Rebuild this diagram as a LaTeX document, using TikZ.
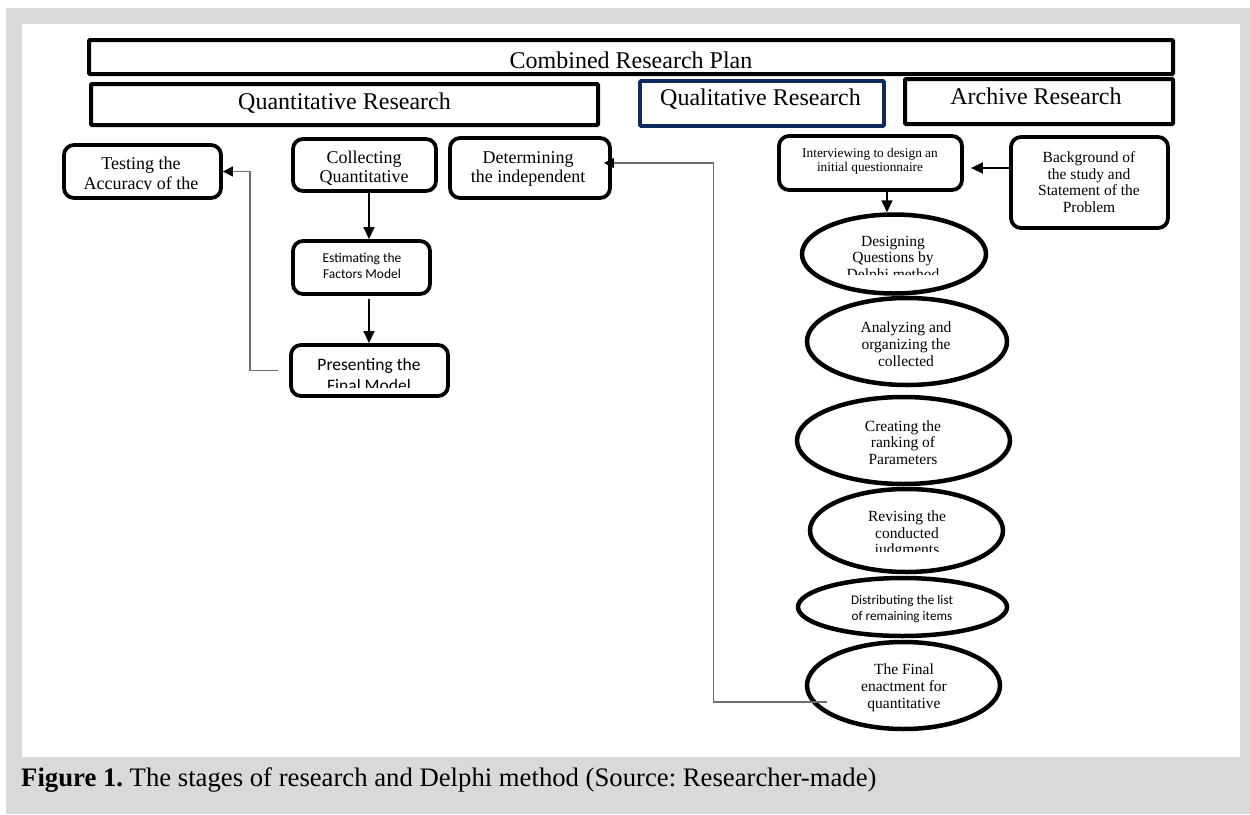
\documentclass[tikz,border=0pt]{standalone}
\usepackage{fontspec}
\setmainfont{Liberation Serif}
\newfontfamily\calib{Carlito}
\usetikzlibrary{arrows.meta,shapes.geometric}
\definecolor{bggray}{HTML}{D9D9D9}
\definecolor{navy}{HTML}{102A5E}
\definecolor{linegray}{HTML}{6E6E6E}
\newcommand\setfs[2]{\fontsize{#1}{#2}\selectfont}
\frenchspacing
\begin{document}
\begin{tikzpicture}[x=1pt,y=-1pt,
  hdr/.style={draw, line width=4pt, rounded corners=1pt, inner sep=0pt},
  box/.style={draw, line width=3.8pt, rounded corners=10pt, inner sep=0pt},
  ell/.style={draw, ellipse, line width=4.5pt, inner sep=0pt},
  txt/.style={align=center, inner sep=0pt},
  arr/.style={line width=1.5pt, -{Triangle[length=12pt,width=11pt]}},
  fb/.style={draw=linegray, line width=1.4pt, -{Triangle[length=10pt,width=10pt,color=black]}}]
\path[use as bounding box] (0,0) rectangle (1250,814);
\fill[white] (0,0) rectangle (1250,814);
\fill[bggray] (6,8) rectangle (1250,814);
\fill[white] (22,24) rectangle (1240,757);

% header boxes
\node[hdr, minimum width=1084pt, minimum height=34pt] (comb) at (631,57) {};
\node[hdr, minimum width=507pt, minimum height=41pt] (quan) at (344.5,104.5) {};
\node[hdr, draw=navy, line width=3.6pt, minimum width=244pt, minimum height=45pt] (qual) at (762,103.5) {};
\node[hdr, minimum width=268pt, minimum height=45pt] (arch) at (1039,101.5) {};
\node[anchor=base, inner sep=0pt, font={\setfs{24}{28}}] (combt) at (631,68) {Combined Research Plan};
\node[anchor=base, inner sep=0pt, font={\setfs{24}{28}}] (quant) at (344.5,109) {Quantitative Research};
\node[anchor=base, inner sep=0pt, font={\setfs{24}{28}}] (qualt) at (760.5,105) {Qualitative Research};
\node[anchor=base, inner sep=0pt, font={\setfs{24}{28}}] (archt) at (1036,104) {Archive Research};

% left boxes
\node[box, minimum width=157pt, minimum height=53pt] (test) at (142.5,171.5) {};
\node[box, minimum width=143pt, minimum height=52pt] (coll) at (364.5,165) {};
\node[box, minimum width=160pt, minimum height=60pt] (det) at (530,168) {};
\node[box, minimum width=137pt, minimum height=53pt] (est) at (361.5,267.5) {};
\node[box, minimum width=157pt, minimum height=51pt] (pres) at (369.5,370.5) {};

\begin{scope}
\clip (64,145) rectangle (221,189);
\node[txt, font={\setfs{18}{20}}] (testt) at (141,175) {Testing the\\Accuracy of the};
\end{scope}
\begin{scope}
\clip (293,139) rectangle (436,184);
\node[txt, font={\setfs{18}{19}}] (collt) at (364,168) {Collecting\\Quantitative};
\end{scope}
\node[txt, font={\setfs{18}{19}}] (dett) at (528,168.5) {Determining\\the independent};
\node[txt, font={\calib\setfs{13.5}{16}}] (estt) at (362,266) {Estimating the\\Factors Model};
\begin{scope}
\clip (291,345) rectangle (448,387);
\node[txt, font={\calib\setfs{17.5}{21}}] (prest) at (369,374.5) {Presenting the\\Final Model};
\end{scope}

% right boxes
\node[box, minimum width=183pt, minimum height=54pt] (intv) at (870.5,163) {};
\node[box, minimum width=157pt, minimum height=91pt] (bkg) at (1089.5,182.5) {};
\node[txt, font={\setfs{13.3}{14}}] (intvt) at (870,161.5) {Interviewing to design an\\initial questionnaire};
\node[txt, font={\setfs{15.5}{16.7}}] (bkgt) at (1089,182) {Background of\\the study and\\Statement of the\\Problem};

% ellipses
\node[ell, minimum width=184pt, minimum height=79pt] (desg) at (894,254) {};
\node[ell, minimum width=200pt, minimum height=87pt] (anal) at (907,341.5) {};
\node[ell, minimum width=213pt, minimum height=87pt] (crea) at (903.5,440.5) {};
\node[ell, minimum width=193pt, minimum height=83pt] (revs) at (906.5,530.5) {};
\node[ell, minimum width=209pt, minimum height=58pt] (dist) at (902.5,607) {};
\node[ell, minimum width=193pt, minimum height=87pt] (finl) at (903.5,685.5) {};

\begin{scope}
\clip (820,225) rectangle (970,274);
\node[txt, font={\setfs{15.5}{16.3}}] (desgt) at (893,259.5) {Designing\\Questions by\\Delphi method};
\end{scope}
\node[txt, font={\setfs{15.5}{17}}] (analt) at (906,344) {Analyzing and\\organizing the\\collected};
\node[txt, font={\setfs{15.5}{16.5}}] (creat) at (903,442.5) {Creating the\\ranking of\\Parameters};
\begin{scope}
\clip (830,500) rectangle (985,551.5);
\node[txt, font={\setfs{15.5}{16.5}}] (revst) at (907,534.5) {Revising the\\conducted\\judgments};
\end{scope}
\node[txt, font={\calib\setfs{13.2}{16}}] (distt) at (902,609) {Distributing the list\\of remaining items};
\node[txt, font={\setfs{15.5}{17}}] (finlt) at (904,688) {The Final\\enactment for\\quantitative};

% connectors
\coordinate (x369) at (369,0);
\coordinate (x887) at (887,0);
\coordinate (y168) at (0,168);
\draw[arr] (coll.south -| x369) -- (est.north -| x369);
\draw[arr, shorten <=3pt] (est.south -| x369) -- (pres.north -| x369);
\draw[arr, shorten >=7pt] (bkg.west |- y168) -- (intv.east |- y168);
\draw[arr] (intv.south -| x887) -- (desg.north -| x887);

\coordinate (fbA) at (250,300);
\draw[fb, shorten <=11pt] (pres.west) -| (fbA) |- (test.east);
\coordinate (finL) at (827,702);
\coordinate (fbB) at (713.5,400);
\draw[fb, shorten >=-8pt] (finL) -| (fbB) |- ([yshift=5pt]det.east);

% caption
\node[anchor=base west, inner sep=0pt, font={\setfs{26.7}{30}}] (cap) at (21,786) {\textbf{Figure 1.} The stages of research and Delphi method (Source: Researcher-made)};
\end{tikzpicture}
\end{document}
